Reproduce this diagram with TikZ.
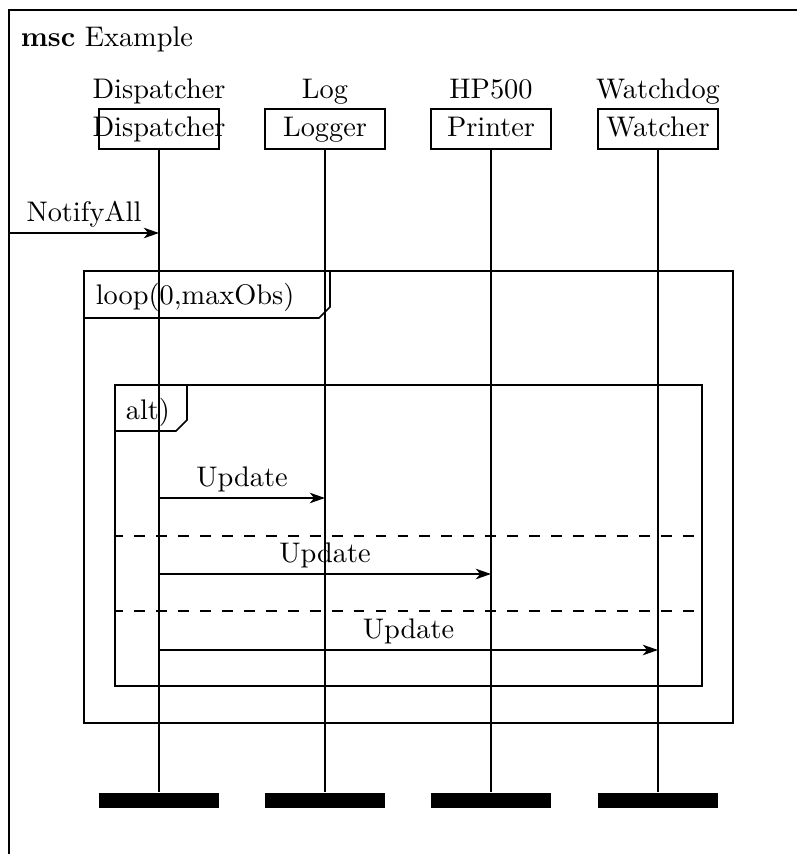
\documentclass[tikz,border=0pt]{standalone}
\usetikzlibrary{arrows.meta}
\begin{document}
\begin{tikzpicture}[x=0.36pt,y=-0.36pt,line width=0.6pt,
  every node/.style={font=\fontsize{10.2pt}{12pt}\selectfont},
  headbox/.style={draw,minimum width=43.2pt,minimum height=14.4pt,inner sep=0pt},
  txt/.style={inner sep=0pt,anchor=base},
  endbar/.style={fill=black,draw=none,minimum width=43.2pt,minimum height=5.4pt,inner sep=0pt},
  msg/.style={-{Stealth[length=5.5pt,width=3.8pt,inset=1.6pt]}},
  msglabel/.style={inner sep=0pt,anchor=base,yshift=4pt},
  sep/.style={dash pattern=on 3.9pt off 4pt,dash phase=1pt}]
\useasboundingbox (0,0) rectangle (797,854);

% outer msc frame (continues past the page edge)
\coordinate (frameTR) at (797,10);
\coordinate (frameTL) at (9,10);
\coordinate (frameBL) at (9,854);
\draw (frameTR) -- (frameTL) -- (frameBL);
\node[txt,anchor=base west] (title) at (20,47) {\textbf{msc} Example};

% instances: name above, head box, end bar
\foreach \id/\x/\nm/\kind in {disp/159/Dispatcher/Dispatcher, log/325/Log/Logger,
                             prn/491/HP500/Printer, wd/658/Watchdog/Watcher}{
  \node[txt] (\id name) at (\x,99) {\nm};
  \node[headbox] (\id box) at (\x,129) {};
  \node[txt] (\id txt) at (\x,137) {\kind};
  \node[endbar] (\id end) at (\x,800.5) {};
  \draw (\id box.south) -- (\id end.north);
}

% incoming gate message
\coordinate (gate) at (9,233);
\draw[msg] (gate) -- (gate -| dispbox) node[msglabel,midway] {NotifyAll};

% loop frame
\draw (84,271) rectangle (733,723);
\draw (84,318) -- (319,318) -- (330,307) -- (330,271);
\node[txt,anchor=base west] (looptag) at (95,305) {loop(0,maxObs)};

% alt frame with its operand separators
\draw (115,385) rectangle (702,686);
\draw (115,431) -- (176,431) -- (187,420) -- (187,385);
\node[txt,anchor=base west] (alttag) at (125,419) {alt)};
\draw[sep] (115,536) -- (702,536);
\draw[sep] (115,611) -- (702,611);

% update messages
\coordinate (u1) at (159,498);
\coordinate (u2) at (159,574);
\coordinate (u3) at (159,650);
\draw[msg] (u1) -- (u1 -| logbox) node[msglabel,midway] {Update};
\draw[msg] (u2) -- (u2 -| prnbox) node[msglabel,midway] {Update};
\draw[msg] (u3) -- (u3 -| wdbox) node[msglabel,midway] {Update};
\end{tikzpicture}
\end{document}
